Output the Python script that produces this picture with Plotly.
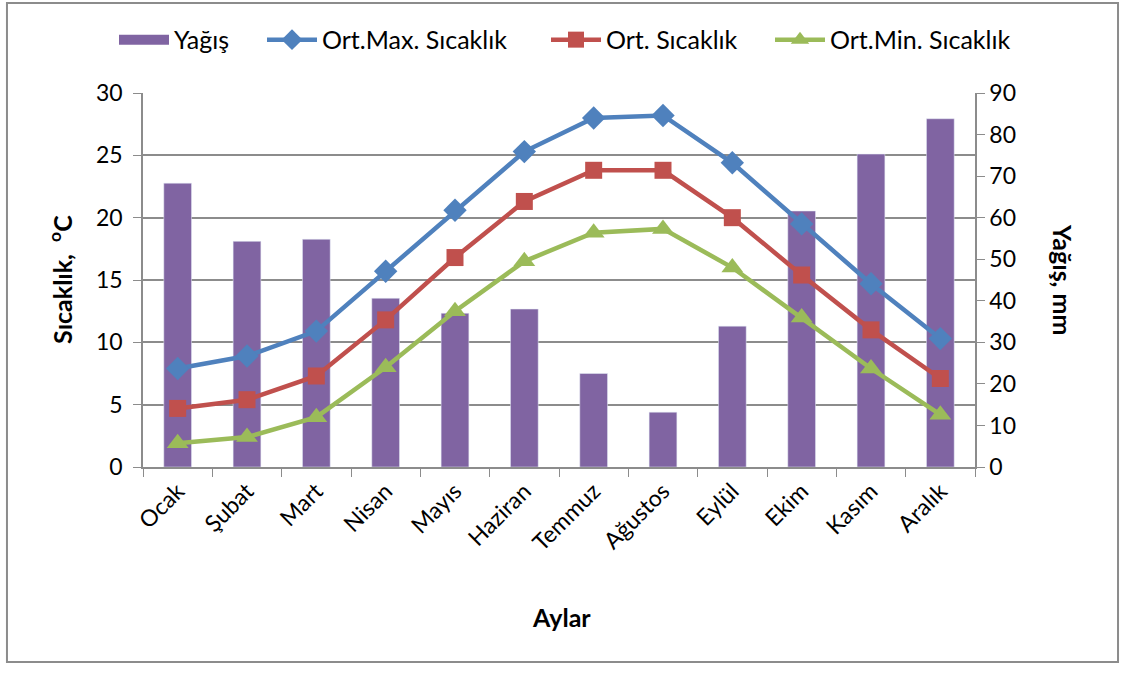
import plotly.graph_objects as go

aylar = ["Ocak", "Şubat", "Mart", "Nisan", "Mayıs", "Haziran",
         "Temmuz", "Ağustos", "Eylül", "Ekim", "Kasım", "Aralık"]
yagis = [68.3, 54.3, 54.8, 40.6, 37.0, 38.0, 22.5, 13.2, 33.9, 61.6, 75.3, 83.8]
max_sicaklik = [7.9, 8.9, 10.9, 15.7, 20.6, 25.3, 28.0, 28.2, 24.4, 19.5, 14.7, 10.3]
ort_sicaklik = [4.7, 5.4, 7.3, 11.8, 16.8, 21.3, 23.8, 23.8, 20.0, 15.4, 11.0, 7.1]
min_sicaklik = [1.9, 2.4, 4.0, 8.0, 12.5, 16.5, 18.8, 19.1, 16.0, 12.0, 7.9, 4.2]

FONT = "Lato"
GRID = "#8c8c8c"

fig = go.Figure()

# bars go on the first axis so the lines are drawn on top of them
fig.add_bar(x=aylar, y=yagis, name="Yağış", marker_color="#8064A2",
            yaxis="y", width=0.4, showlegend=False)
# legend entry only: a thick line gives the wide swatch of the original
fig.add_scatter(x=[None], y=[None], name="Yağış", mode="lines", yaxis="y",
                line=dict(color="#8064A2", width=15), legend="legend",
                hoverinfo="skip")

fig.add_scatter(x=aylar, y=max_sicaklik, name="Ort.Max. Sıcaklık", yaxis="y2",
                mode="lines+markers", line=dict(color="#4F81BD", width=4.5),
                marker=dict(symbol="diamond", size=18, color="#4F81BD"),
                legend="legend2")
fig.add_scatter(x=aylar, y=ort_sicaklik, name="Ort. Sıcaklık", yaxis="y2",
                mode="lines+markers", line=dict(color="#C0504D", width=4.5),
                marker=dict(symbol="square", size=17, color="#C0504D"),
                legend="legend3")
fig.add_scatter(x=aylar, y=min_sicaklik, name="Ort.Min. Sıcaklık", yaxis="y2",
                mode="lines+markers", line=dict(color="#9BBB59", width=4.5),
                marker=dict(symbol="triangle-up", size=19, color="#9BBB59"),
                legend="legend4")

# one legend per entry so each sits where the original has it
leg = dict(orientation="h", y=1.142, yanchor="middle", xanchor="left",
           font=dict(size=25), itemwidth=50, bgcolor="rgba(0,0,0,0)")

fig.update_layout(
    width=1125, height=673,
    margin=dict(l=143, r=150, t=93, b=206, autoexpand=False),
    paper_bgcolor="white", plot_bgcolor="white",
    font=dict(family=FONT, size=24, color="#000"),
    showlegend=True,
    legend=dict(leg, x=(114 - 143) / 832),
    legend2=dict(leg, x=(262 - 143) / 832),
    legend3=dict(leg, x=(546 - 143) / 832),
    legend4=dict(leg, x=(770 - 143) / 832),
    xaxis=dict(range=[-0.5, 11.5], tickangle=-45, tickson="boundaries",
               ticks="outside", ticklen=8, tickcolor=GRID, showline=True,
               linecolor=GRID, linewidth=1.5, showgrid=False,
               tickfont=dict(size=23), automargin=False),
    yaxis=dict(side="right", range=[0, 90], dtick=10, showgrid=False,
               ticks="outside", ticklen=8, tickcolor=GRID, showline=True,
               linecolor=GRID, linewidth=1.5, zeroline=False,
               tickfont=dict(size=23), automargin=False),
    yaxis2=dict(side="left", overlaying="y", range=[0, 30], dtick=5,
                showgrid=True, gridcolor=GRID, gridwidth=1.5,
                ticks="outside", ticklen=8, tickcolor=GRID, showline=True,
                linecolor=GRID, linewidth=1.5, zeroline=False,
                tickfont=dict(size=23), automargin=False, ticklabelstandoff=6),
    annotations=[
        dict(text="<b>Sıcaklık,  <sup>o</sup>C</b>", xref="paper", yref="paper",
             x=(60 - 143) / 832, y=0.5, xanchor="center", yanchor="middle",
             textangle=-90, showarrow=False, font=dict(size=25)),
        dict(text="<b>Yağış, mm</b>", xref="paper", yref="paper",
             x=(1063 - 143) / 832, y=(467 - 279) / 374, xanchor="center",
             yanchor="middle", textangle=90, showarrow=False, font=dict(size=25)),
        dict(text="<b>Aylar</b>", xref="paper", yref="paper",
             x=(561 - 143) / 832, y=(467 - 617) / 374, xanchor="center",
             yanchor="middle", showarrow=False, font=dict(size=25)),
    ],
    shapes=[dict(type="rect", xref="paper", yref="paper",
                 x0=-0.1635, x1=1.1719, y0=-0.5214, y1=1.2406,
                 line=dict(color="#8c8c8c", width=2), layer="below")],
)

fig.write_html("out.html", config={"displayModeBar": False},
               post_script="document.body.style.margin='0';")
